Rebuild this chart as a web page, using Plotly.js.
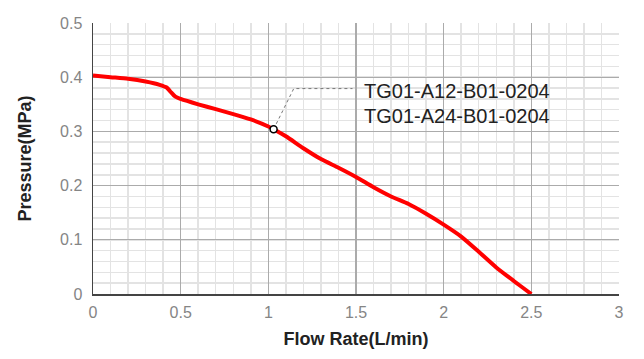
<!DOCTYPE html>
<html>
<head>
<meta charset="utf-8">
<script src="https://cdn.plot.ly/plotly-3.0.1.min.js"></script>
<style>html,body{margin:0;padding:0;background:#fff;}#chart{width:644px;height:359px;}</style>
</head>
<body>
<div id="chart"></div>
<script>
var flowRate = [0, 0.1, 0.2, 0.3, 0.38, 0.42, 0.44, 0.47, 0.5, 0.6, 0.7, 0.8, 0.9, 1.0, 1.03, 1.1, 1.2, 1.3, 1.4, 1.5, 1.6, 1.7, 1.8, 1.9, 2.0, 2.1, 2.2, 2.3, 2.4, 2.5];
var pressure = [0.403, 0.400, 0.397, 0.392, 0.386, 0.381, 0.374, 0.364, 0.360, 0.350, 0.341, 0.332, 0.322, 0.309, 0.304, 0.291, 0.269, 0.249, 0.233, 0.216, 0.197, 0.180, 0.166, 0.148, 0.128, 0.106, 0.078, 0.049, 0.024, 0.0];
var markerPoint = {x: [1.03], y: [0.304]};
var leaderX = [1.03, 1.145, 1.48];
var leaderY = [0.304, 0.379, 0.379];
var modelLabels = ["TG01-A12-B01-0204", "TG01-A24-B01-0204"];
var labelX = 1.535;
var labelY = [0.375, 0.328];
var xTicks = [0, 0.5, 1, 1.5, 2, 2.5, 3];
var xTickText = ["0", "0.5", "1", "1.5", "2", "2.5", "3"];
var yTicks = [0, 0.1, 0.2, 0.3, 0.4, 0.5];
var yTickText = ["0", "0.1", "0.2", "0.3", "0.4", "0.5"];

var traces = [
  {x: leaderX, y: leaderY, mode: 'lines', line: {color: '#777', width: 1, dash: 'dot'}, hoverinfo: 'skip'},
  {x: flowRate, y: pressure, mode: 'lines', line: {color: '#ff0000', width: 4, shape: 'spline', smoothing: 0.6}},
  {x: markerPoint.x, y: markerPoint.y, mode: 'markers', marker: {size: 7, color: '#fff', line: {color: '#000', width: 1.5}}}
];

var annotations = modelLabels.map(function(t, i) {
  return {x: labelX, y: labelY[i], xref: 'x', yref: 'y', text: t, showarrow: false, xanchor: 'left', yanchor: 'middle',
          font: {family: 'Liberation Sans, Arial, sans-serif', size: 20, color: '#222'}};
});

var layout = {
  width: 644, height: 359,
  margin: {l: 93, r: 25, t: 23, b: 65},
  paper_bgcolor: '#fff', plot_bgcolor: '#fff',
  showlegend: false,
  font: {family: 'Liberation Sans, Arial, sans-serif'},
  xaxis: {
    range: [0, 3], tickvals: xTicks, ticktext: xTickText,
    showgrid: true, gridcolor: '#ababab', gridwidth: 1.2,
    minor: {dtick: 0.1, showgrid: true, gridcolor: '#e3e3e3', gridwidth: 1.5},
    showline: true, linecolor: '#444', linewidth: 1.5,
    ticks: 'outside', ticklen: 3, tickcolor: 'rgba(0,0,0,0)',
    tickfont: {size: 16, color: '#858585'},
    zeroline: false,
    title: {text: 'Flow Rate(L/min)', font: {size: 18, color: '#222', weight: 'bold'}, standoff: 12}
  },
  yaxis: {
    range: [0, 0.5], tickvals: yTicks, ticktext: yTickText,
    showgrid: true, gridcolor: '#ababab', gridwidth: 1.2,
    minor: {dtick: 0.02, showgrid: true, gridcolor: '#e3e3e3', gridwidth: 1.5},
    showline: true, linecolor: '#444', linewidth: 1.5,
    ticks: 'outside', ticklen: 6, tickcolor: 'rgba(0,0,0,0)',
    tickfont: {size: 16, color: '#858585'},
    zeroline: false,
    title: {text: 'Pressure(MPa)', font: {size: 18, color: '#222', weight: 'bold'}, standoff: 23}
  },
  annotations: annotations
};

Plotly.newPlot('chart', traces, layout, {displayModeBar: false, staticPlot: true});
</script>
</body>
</html>
